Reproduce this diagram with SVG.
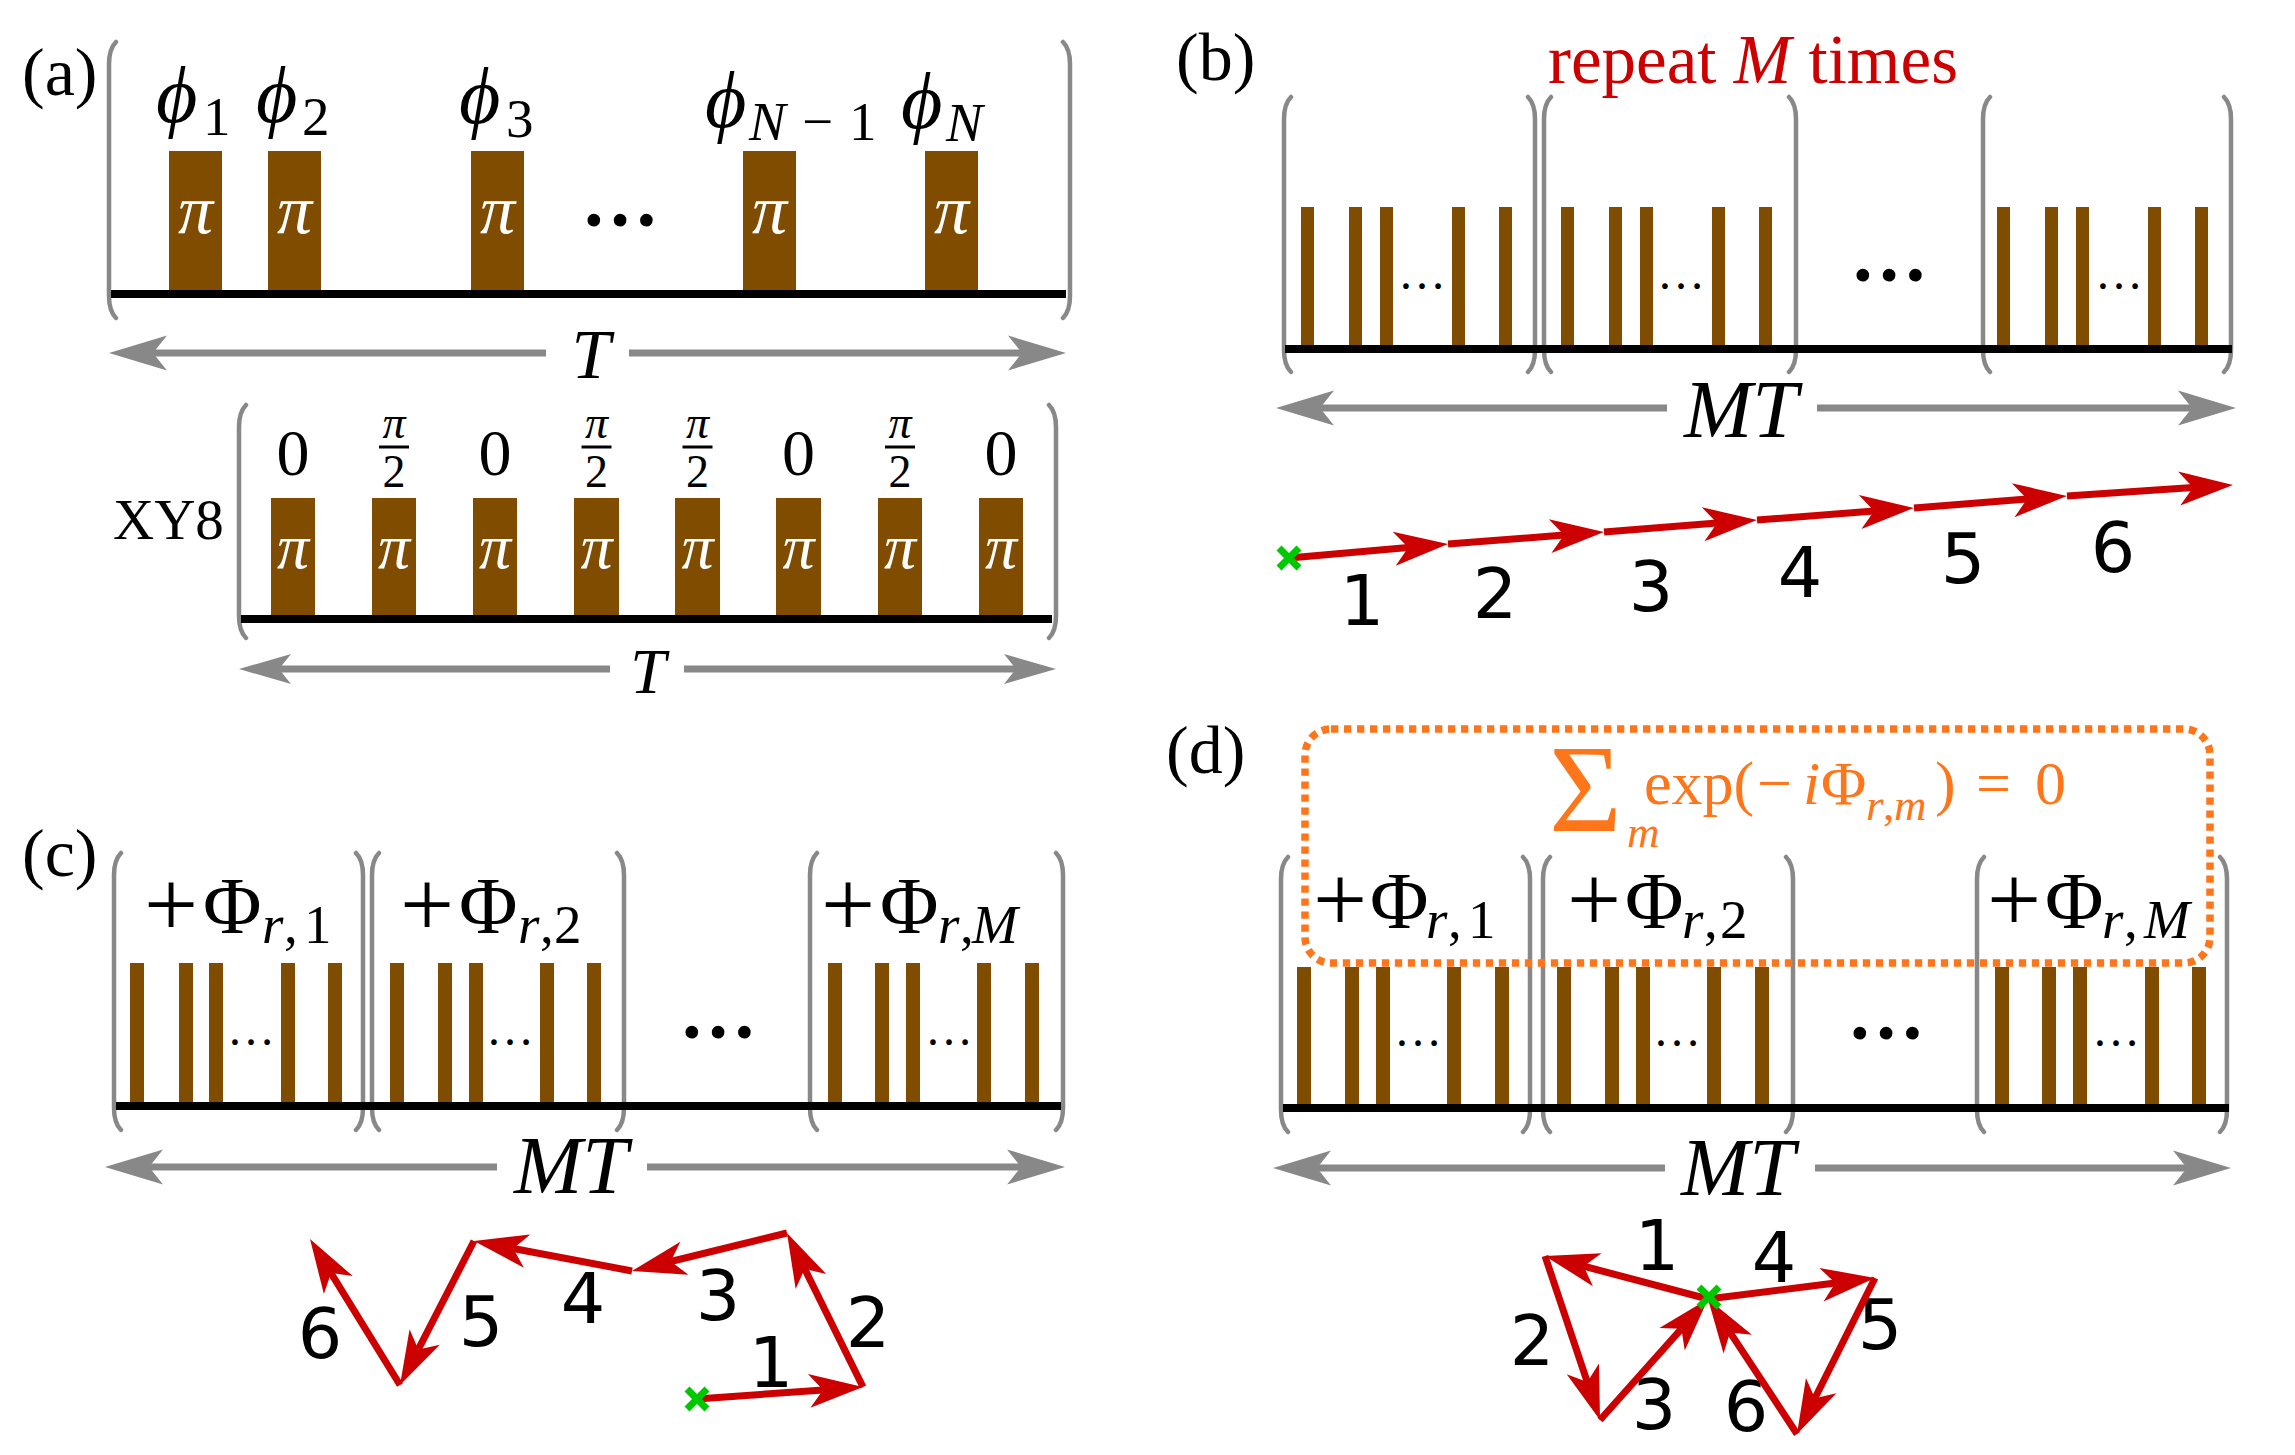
<svg xmlns="http://www.w3.org/2000/svg" width="2295" height="1455" viewBox="0 0 2295 1455">
<style>
.bk{fill:none;stroke:#888;stroke-width:4.5;stroke-linecap:round}
.base{stroke:#000;stroke-width:8}
.pl{fill:#7F4C00}
.span{stroke:#888;stroke-width:7;fill:none}
.red{stroke:#CC0000;stroke-width:7;fill:none}
.grn{stroke:#00C800;stroke-width:7;stroke-linecap:butt}
.ser{font-family:"Liberation Serif","DejaVu Serif",serif;fill:#000}
.it{font-style:italic}
.pi{font-family:"Liberation Serif","DejaVu Serif",serif;font-style:italic;fill:#fff;text-anchor:middle}
.num{font-family:"DejaVu Sans","Liberation Sans",sans-serif;font-size:70px;fill:#000;text-anchor:middle}
.dots{font-family:"Liberation Serif",serif;font-size:48px;text-anchor:middle;fill:#000}
.bdots{font-family:"Liberation Serif",serif;font-size:78px;font-weight:bold;text-anchor:middle;fill:#000}
.pan{font-family:"Liberation Serif",serif;font-size:68px;fill:#000}
.spanlbl{font-family:"Liberation Serif",serif;font-style:italic;fill:#000;text-anchor:middle}
.phi{font-size:80px}
.sub{font-size:55px}
.plus{font-size:96px}
.orn{fill:#FF761A}
</style>
<defs>
<marker id="ah-red" markerUnits="userSpaceOnUse" orient="auto" refX="0" refY="0" markerWidth="60" markerHeight="40" overflow="visible">
<path d="M40,0 L-14,-17 L0,0 L-14,17 Z" fill="#CC0000"/>
</marker>
<marker id="ah-gray" markerUnits="userSpaceOnUse" orient="auto-start-reverse" refX="0" refY="0" markerWidth="60" markerHeight="40" overflow="visible">
<path d="M44,0 L-14,-17.5 L0,0 L-14,17.5 Z" fill="#888"/>
</marker>
<marker id="ah-gray-s" markerUnits="userSpaceOnUse" orient="auto-start-reverse" refX="0" refY="0" markerWidth="60" markerHeight="40" overflow="visible">
<path d="M40,0 L-12,-15 L0,0 L-12,15 Z" fill="#888"/>
</marker>
</defs>
<rect width="2295" height="1455" fill="#fff"/>

<!-- Panel (a) top -->
<g id="panel-a">
<text class="pan" x="22" y="95">(a)</text>
<path class="bk" d="M116,42 C111,47 109,54 109,64 V296 C109,306 111,313 116,318"/>
<path class="bk" d="M1063,42 C1068,47 1070,54 1070,64 V296 C1070,306 1068,313 1063,318"/>
<g id="pulses-a">
<rect class="pl" x="169" y="151" width="53" height="140"/>
<rect class="pl" x="268" y="151" width="53" height="140"/>
<rect class="pl" x="471" y="151" width="53" height="140"/>
<rect class="pl" x="743" y="151" width="53" height="140"/>
<rect class="pl" x="925" y="151" width="53" height="140"/>
</g>
<line class="base" x1="111" y1="294" x2="1066" y2="294"/>
<g font-size="70">
<text class="pi" x="195.5" y="233">π</text>
<text class="pi" x="294.5" y="233">π</text>
<text class="pi" x="497.5" y="233">π</text>
<text class="pi" x="769.5" y="233">π</text>
<text class="pi" x="951.5" y="233">π</text>
</g>
<text class="bdots" x="620" y="226">…</text>
<text class="ser"><tspan class="it phi" x="156" y="122">ϕ</tspan><tspan class="sub" x="203" y="135">1</tspan></text>
<text class="ser"><tspan class="it phi" x="256" y="122">ϕ</tspan><tspan class="sub" x="302" y="135">2</tspan></text>
<text class="ser"><tspan class="it phi" x="459" y="123">ϕ</tspan><tspan class="sub" x="506" y="137">3</tspan></text>
<text class="ser"><tspan class="it phi" x="705" y="127">ϕ</tspan><tspan class="sub it" x="749" y="140">N</tspan><tspan class="sub" x="802" y="140">−</tspan><tspan class="sub" x="849" y="140">1</tspan></text>
<text class="ser"><tspan class="it phi" x="901" y="128">ϕ</tspan><tspan class="sub it" x="946" y="141">N</tspan></text>
<text class="spanlbl" x="591" y="378" font-size="70">T</text>
</g>

<!-- Panel (a) XY8 -->
<g id="panel-a-xy8">
<text class="ser" x="113" y="539" font-size="57">XY8</text>
<path class="bk" d="M246,405 C241,410 239,417 239,427 V616 C239,626 241,633 246,638"/>
<path class="bk" d="M1049,405 C1054,410 1056,417 1056,427 V616 C1056,626 1054,633 1049,638"/>
<g id="pulses-xy8">
<rect class="pl" x="271" y="498" width="44" height="119"/>
<rect class="pl" x="372" y="498" width="44" height="119"/>
<rect class="pl" x="473" y="498" width="44" height="119"/>
<rect class="pl" x="574" y="498" width="45" height="119"/>
<rect class="pl" x="675" y="498" width="45" height="119"/>
<rect class="pl" x="776" y="498" width="45" height="119"/>
<rect class="pl" x="878" y="498" width="44" height="119"/>
<rect class="pl" x="979" y="498" width="44" height="119"/>
</g>
<line class="base" x1="241" y1="619" x2="1052" y2="619"/>
<g font-size="64">
<text class="pi" x="293" y="568">π</text>
<text class="pi" x="394" y="568">π</text>
<text class="pi" x="495" y="568">π</text>
<text class="pi" x="596.5" y="568">π</text>
<text class="pi" x="697.5" y="568">π</text>
<text class="pi" x="798.5" y="568">π</text>
<text class="pi" x="900" y="568">π</text>
<text class="pi" x="1001" y="568">π</text>
</g>
<g class="ser" font-size="66" text-anchor="middle">
<text x="293" y="475">0</text>
<text x="495" y="475">0</text>
<text x="798.5" y="475">0</text>
<text x="1001" y="475">0</text>
</g>
<g class="ser" font-size="46" text-anchor="middle">
<text class="it" x="394" y="438">π</text><text x="394" y="487">2</text>
<text class="it" x="596.5" y="438">π</text><text x="596.5" y="487">2</text>
<text class="it" x="697.5" y="438">π</text><text x="697.5" y="487">2</text>
<text class="it" x="900" y="438">π</text><text x="900" y="487">2</text>
</g>
<g stroke="#000" stroke-width="3">
<line x1="379" y1="447" x2="409" y2="447"/>
<line x1="581.5" y1="447" x2="611.5" y2="447"/>
<line x1="682.5" y1="447" x2="712.5" y2="447"/>
<line x1="885" y1="447" x2="915" y2="447"/>
</g>
<text class="spanlbl" x="648" y="693" font-size="64">T</text>
</g>

<!-- Panel (b) -->
<g id="panel-b">
<text class="pan" x="1176" y="80">(b)</text>
<text class="ser" x="1548" y="83" font-size="69" style="fill:#CC0000">repeat <tspan class="it">M</tspan> times</text>
<path class="bk" d="M1291,97 C1286,102 1284,109 1284,119 V350 C1284,360 1286,367 1291,372"/>
<path class="bk" d="M1528,97 C1533,102 1535,109 1535,119 V350 C1535,360 1533,367 1528,372"/>
<path class="bk" d="M1551,97 C1546,102 1544,109 1544,119 V350 C1544,360 1546,367 1551,372"/>
<path class="bk" d="M1789,97 C1794,102 1796,109 1796,119 V350 C1796,360 1794,367 1789,372"/>
<path class="bk" d="M1990,97 C1985,102 1983,109 1983,119 V350 C1983,360 1985,367 1990,372"/>
<path class="bk" d="M2224,97 C2229,102 2231,109 2231,119 V350 C2231,360 2229,367 2224,372"/>
<g id="pulses-b">
<rect class="pl" x="1301" y="207" width="13" height="140"/>
<rect class="pl" x="1349" y="207" width="13" height="140"/>
<rect class="pl" x="1380" y="207" width="13" height="140"/>
<rect class="pl" x="1452" y="207" width="13" height="140"/>
<rect class="pl" x="1499" y="207" width="13" height="140"/>
<rect class="pl" x="1561" y="207" width="13" height="140"/>
<rect class="pl" x="1609" y="207" width="13" height="140"/>
<rect class="pl" x="1640" y="207" width="13" height="140"/>
<rect class="pl" x="1712" y="207" width="13" height="140"/>
<rect class="pl" x="1759" y="207" width="13" height="140"/>
<rect class="pl" x="1997" y="207" width="13" height="140"/>
<rect class="pl" x="2045" y="207" width="13" height="140"/>
<rect class="pl" x="2076" y="207" width="13" height="140"/>
<rect class="pl" x="2148" y="207" width="13" height="140"/>
<rect class="pl" x="2195" y="207" width="13" height="140"/>
</g>
<line class="base" x1="1285" y1="349" x2="2232" y2="349"/>
<text class="dots" x="1422" y="289">…</text>
<text class="dots" x="1681" y="289">…</text>
<text class="dots" x="2119" y="289">…</text>
<text class="bdots" x="1889" y="281">…</text>
<text class="spanlbl" x="1741" y="437" font-size="82">MT</text>
<g class="num">
<text x="1362" y="625">1</text>
<text x="1495" y="618">2</text>
<text x="1651" y="611">3</text>
<text x="1800" y="597">4</text>
<text x="1963" y="583">5</text>
<text x="2113" y="572">6</text>
</g>
</g>

<!-- Panel (c) -->
<g id="panel-c">
<text class="pan" x="22" y="876">(c)</text>
<path class="bk" d="M121,853 C116,858 114,865 114,875 V1108 C114,1118 116,1125 121,1130"/>
<path class="bk" d="M356,853 C361,858 363,865 363,875 V1108 C363,1118 361,1125 356,1130"/>
<path class="bk" d="M379,853 C374,858 372,865 372,875 V1108 C372,1118 374,1125 379,1130"/>
<path class="bk" d="M617,853 C622,858 624,865 624,875 V1108 C624,1118 622,1125 617,1130"/>
<path class="bk" d="M817,853 C812,858 810,865 810,875 V1108 C810,1118 812,1125 817,1130"/>
<path class="bk" d="M1056,853 C1061,858 1063,865 1063,875 V1108 C1063,1118 1061,1125 1056,1130"/>
<g id="pulses-c">
<rect class="pl" x="130" y="963" width="14" height="141"/>
<rect class="pl" x="179" y="963" width="14" height="141"/>
<rect class="pl" x="209" y="963" width="14" height="141"/>
<rect class="pl" x="281" y="963" width="14" height="141"/>
<rect class="pl" x="328" y="963" width="14" height="141"/>
<rect class="pl" x="390" y="963" width="14" height="141"/>
<rect class="pl" x="438" y="963" width="14" height="141"/>
<rect class="pl" x="469" y="963" width="14" height="141"/>
<rect class="pl" x="540" y="963" width="14" height="141"/>
<rect class="pl" x="587" y="963" width="14" height="141"/>
<rect class="pl" x="828" y="963" width="14" height="141"/>
<rect class="pl" x="875" y="963" width="14" height="141"/>
<rect class="pl" x="906" y="963" width="14" height="141"/>
<rect class="pl" x="977" y="963" width="14" height="141"/>
<rect class="pl" x="1025" y="963" width="14" height="141"/>
</g>
<line class="base" x1="116" y1="1106" x2="1061" y2="1106"/>
<text class="dots" x="251" y="1045">…</text>
<text class="dots" x="510" y="1045">…</text>
<text class="dots" x="949" y="1045">…</text>
<text class="bdots" x="718" y="1038">…</text>
<text class="ser" font-size="80"><tspan class="plus" x="144" y="936">+</tspan><tspan x="203" y="933">Φ</tspan><tspan class="sub it" x="262" y="943">r</tspan><tspan class="sub" x="284" y="943">,</tspan><tspan class="sub" x="304" y="943">1</tspan></text>
<text class="ser" font-size="80"><tspan class="plus" x="400" y="936">+</tspan><tspan x="459" y="933">Φ</tspan><tspan class="sub it" x="518" y="943">r</tspan><tspan class="sub" x="540" y="943">,</tspan><tspan class="sub" x="554" y="943">2</tspan></text>
<text class="ser" font-size="80"><tspan class="plus" x="821" y="936">+</tspan><tspan x="880" y="933">Φ</tspan><tspan class="sub it" x="938" y="943">r</tspan><tspan class="sub" x="960" y="943">,</tspan><tspan class="sub it" x="972" y="943">M</tspan></text>
<text class="spanlbl" x="571" y="1193" font-size="82">MT</text>
<g class="num">
<text x="771" y="1387">1</text>
<text x="868" y="1347">2</text>
<text x="718" y="1320">3</text>
<text x="583" y="1323">4</text>
<text x="481" y="1346">5</text>
<text x="320" y="1358">6</text>
</g>
</g>

<!-- Panel (d) -->
<g id="panel-d">
<text class="pan" x="1166" y="773">(d)</text>
<path class="bk" d="M1288,857 C1283,862 1281,869 1281,879 V1110 C1281,1120 1283,1127 1288,1132"/>
<path class="bk" d="M1523,857 C1528,862 1530,869 1530,879 V1110 C1530,1120 1528,1127 1523,1132"/>
<path class="bk" d="M1550,857 C1545,862 1543,869 1543,879 V1110 C1543,1120 1545,1127 1550,1132"/>
<path class="bk" d="M1786,857 C1791,862 1793,869 1793,879 V1110 C1793,1120 1791,1127 1786,1132"/>
<path class="bk" d="M1984,857 C1979,862 1977,869 1977,879 V1110 C1977,1120 1979,1127 1984,1132"/>
<path class="bk" d="M2220,857 C2225,862 2227,869 2227,879 V1110 C2227,1120 2225,1127 2220,1132"/>
<g id="pulses-d">
<rect class="pl" x="1297" y="967" width="14" height="139"/>
<rect class="pl" x="1345" y="967" width="14" height="139"/>
<rect class="pl" x="1376" y="967" width="14" height="139"/>
<rect class="pl" x="1447" y="967" width="14" height="139"/>
<rect class="pl" x="1495" y="967" width="14" height="139"/>
<rect class="pl" x="1557" y="967" width="14" height="139"/>
<rect class="pl" x="1605" y="967" width="14" height="139"/>
<rect class="pl" x="1636" y="967" width="14" height="139"/>
<rect class="pl" x="1707" y="967" width="14" height="139"/>
<rect class="pl" x="1755" y="967" width="14" height="139"/>
<rect class="pl" x="1995" y="967" width="14" height="139"/>
<rect class="pl" x="2042" y="967" width="14" height="139"/>
<rect class="pl" x="2073" y="967" width="14" height="139"/>
<rect class="pl" x="2145" y="967" width="14" height="139"/>
<rect class="pl" x="2192" y="967" width="14" height="139"/>
</g>
<line class="base" x1="1283" y1="1108" x2="2229" y2="1108"/>
<text class="dots" x="1418" y="1046">…</text>
<text class="dots" x="1677" y="1046">…</text>
<text class="dots" x="2116" y="1046">…</text>
<text class="bdots" x="1886" y="1039">…</text>
<text class="ser" font-size="80"><tspan class="plus" x="1313" y="931">+</tspan><tspan x="1370" y="928">Φ</tspan><tspan class="sub it" x="1426" y="938">r</tspan><tspan class="sub" x="1448" y="938">,</tspan><tspan class="sub" x="1468" y="938">1</tspan></text>
<text class="ser" font-size="80"><tspan class="plus" x="1567" y="931">+</tspan><tspan x="1625" y="928">Φ</tspan><tspan class="sub it" x="1682" y="938">r</tspan><tspan class="sub" x="1704" y="938">,</tspan><tspan class="sub" x="1720" y="938">2</tspan></text>
<text class="ser" font-size="80"><tspan class="plus" x="1987" y="931">+</tspan><tspan x="2045" y="928">Φ</tspan><tspan class="sub it" x="2102" y="938">r</tspan><tspan class="sub" x="2124" y="938">,</tspan><tspan class="sub it" x="2144" y="938">M</tspan></text>
<rect x="1305" y="729" width="905" height="234" rx="26" fill="none" stroke="#FF761A" stroke-width="7.5" stroke-dasharray="7.3 5.7"/>
<g class="ser">
<text class="orn" x="1549" y="831" font-size="125">Σ</text>
<text class="orn it" x="1627" y="847" font-size="45">m</text>
<text class="orn" y="804" font-size="62"><tspan x="1644">exp(</tspan><tspan x="1757">−</tspan><tspan class="it" x="1803">i</tspan><tspan x="1821">Φ</tspan><tspan class="it" x="1866" y="820" font-size="45">r</tspan><tspan x="1883" y="820" font-size="45">,</tspan><tspan class="it" x="1894" y="820" font-size="45">m</tspan><tspan x="1935" y="804">)</tspan><tspan x="1976" y="804">=</tspan><tspan x="2035" y="804">0</tspan></text>
</g>
<text class="spanlbl" x="1738" y="1195" font-size="82">MT</text>
<g class="num">
<text x="1657" y="1270">1</text>
<text x="1532" y="1365">2</text>
<text x="1654" y="1429">3</text>
<text x="1774" y="1282">4</text>
<text x="1880" y="1349">5</text>
<text x="1746" y="1431">6</text>
</g>
</g>

<!-- Connectors -->
<g id="connectors">
<g id="span-arrows">
<line class="span" x1="153" y1="353" x2="546" y2="353" marker-start="url(#ah-gray)"/>
<line class="span" x1="629" y1="353" x2="1022" y2="353" marker-end="url(#ah-gray)"/>
<line class="span" x1="279" y1="669" x2="610" y2="669" marker-start="url(#ah-gray-s)"/>
<line class="span" x1="684" y1="669" x2="1016" y2="669" marker-end="url(#ah-gray-s)"/>
<line class="span" x1="1320" y1="408" x2="1667" y2="408" marker-start="url(#ah-gray)"/>
<line class="span" x1="1817" y1="408" x2="2192" y2="408" marker-end="url(#ah-gray)"/>
<line class="span" x1="149" y1="1167" x2="497" y2="1167" marker-start="url(#ah-gray)"/>
<line class="span" x1="647" y1="1167" x2="1021" y2="1167" marker-end="url(#ah-gray)"/>
<line class="span" x1="1317" y1="1168" x2="1665" y2="1168" marker-start="url(#ah-gray)"/>
<line class="span" x1="1815" y1="1168" x2="2187" y2="1168" marker-end="url(#ah-gray)"/>
</g>
<g id="chain-b">
<line class="red" x1="1289" y1="558" x2="1408.2" y2="547.5" marker-end="url(#ah-red)"/>
<line class="red" x1="1448" y1="544" x2="1564.1" y2="535.1" marker-end="url(#ah-red)"/>
<line class="red" x1="1604" y1="532" x2="1717.1" y2="523.1" marker-end="url(#ah-red)"/>
<line class="red" x1="1757" y1="520" x2="1874.1" y2="511.0" marker-end="url(#ah-red)"/>
<line class="red" x1="1914" y1="508" x2="2027.1" y2="499.1" marker-end="url(#ah-red)"/>
<line class="red" x1="2067" y1="496" x2="2193.1" y2="487.6" marker-end="url(#ah-red)"/>
</g>
<g id="chain-c">
<line class="red" x1="697" y1="1399" x2="823.1" y2="1389.9" marker-end="url(#ah-red)"/>
<line class="red" x1="863" y1="1387" x2="804.7" y2="1268.9" marker-end="url(#ah-red)"/>
<line class="red" x1="787" y1="1233" x2="670.8" y2="1261.5" marker-end="url(#ah-red)"/>
<line class="red" x1="632" y1="1271" x2="513.3" y2="1248.5" marker-end="url(#ah-red)"/>
<line class="red" x1="474" y1="1241" x2="418.3" y2="1349.4" marker-end="url(#ah-red)"/>
<line class="red" x1="400" y1="1385" x2="331.0" y2="1273.1" marker-end="url(#ah-red)"/>
</g>
<g id="chain-d">
<line class="red" x1="1708" y1="1299" x2="1583.7" y2="1266.2" marker-end="url(#ah-red)"/>
<line class="red" x1="1545" y1="1256" x2="1587.3" y2="1382.1" marker-end="url(#ah-red)"/>
<line class="red" x1="1600" y1="1420" x2="1681.4" y2="1328.8" marker-end="url(#ah-red)"/>
<line class="red" x1="1708" y1="1299" x2="1835.3" y2="1283.0" marker-end="url(#ah-red)"/>
<line class="red" x1="1875" y1="1278" x2="1814.9" y2="1398.2" marker-end="url(#ah-red)"/>
<line class="red" x1="1797" y1="1434" x2="1730.0" y2="1332.4" marker-end="url(#ah-red)"/>
</g>
<g id="origins">
<path class="grn" d="M1279,548 L1299,568 M1299,548 L1279,568"/>
<path class="grn" d="M687,1389 L707,1409 M707,1389 L687,1409"/>
<path class="grn" d="M1699,1287 L1719,1307 M1719,1287 L1699,1307"/>
</g>
</g>
</svg>
